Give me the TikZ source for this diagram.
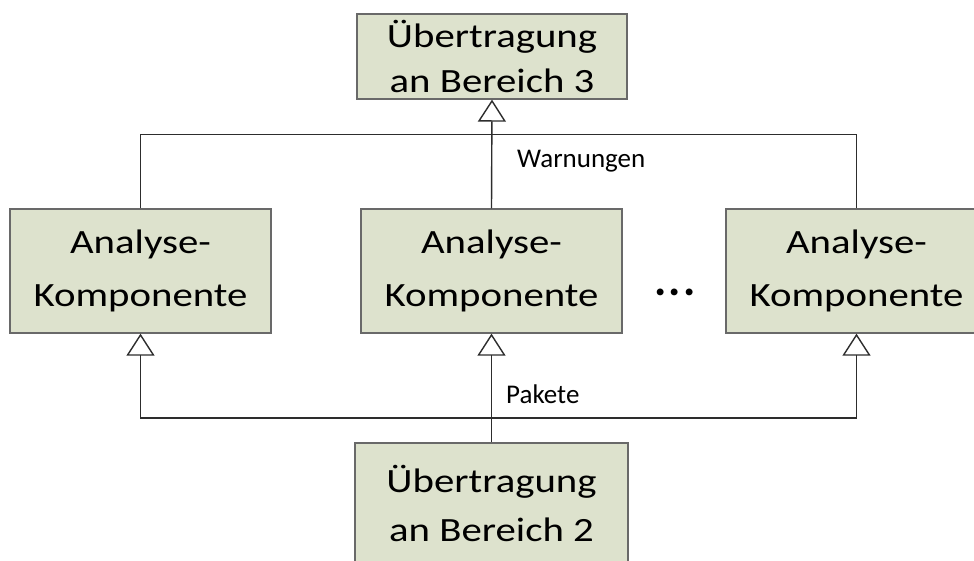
\documentclass[tikz,border=0pt]{standalone}
\usepackage{fontspec}
\setmainfont{Carlito}
\newfontfamily\boxfont[FakeStretch=1.2]{Carlito}
\usetikzlibrary{arrows.meta}
\definecolor{boxgreen}{RGB}{221,226,205}
\definecolor{boxrand}{RGB}{105,105,105}
\definecolor{linecolor}{RGB}{45,45,45}
\tikzset{
  >={Triangle[length=22pt,width=28pt,fill=white]},
  kompbox/.style={draw=boxrand,fill=boxgreen,line width=1.3pt,minimum width=261pt,
    minimum height=124pt,inner sep=0pt,align=center,font=\boxfont\fontsize{34}{53}\selectfont},
  uebbox/.style={kompbox,minimum width=270pt,minimum height=85pt,
    font=\boxfont\fontsize{34}{45}\selectfont},
  wire/.style={draw=linecolor,line width=1.4pt},
  wirep/.style={draw=linecolor,line width=1.4pt,->},
  labeltext/.style={font=\fontsize{27}{30}\selectfont,inner sep=0pt,anchor=base west}
}

\begin{document}
\begin{tikzpicture}[x=1pt,y=-1pt]
  \useasboundingbox (0,0) rectangle (974,560);
  % boxes
  \node[uebbox] (UEB3) at (492,56.5) {Übertragung\\an Bereich 3};
  \node[kompbox] (ANA1) at (140.5,271) {Analyse-\\Komponente};
  \node[kompbox] (ANA2) at (491.5,271) {Analyse-\\Komponente};
  \node[kompbox] (ANA3) at (856.5,271) {Analyse-\\Komponente};
  \node[uebbox,minimum width=273pt,minimum height=120pt,
    font=\boxfont\fontsize{34}{49}\selectfont] (UEB2) at (491.5,503) {Übertragung\\an Bereich 2};
  \node[font=\fontsize{46}{46}\selectfont\bfseries,inner sep=0pt] (DOTS) at (675,292)
    {.\kern2.5pt.\kern2.5pt.};
  % warnings up
  \draw (ANA2.north) -- (UEB3.south) [wirep];
  \draw (ANA1.north) -- ++(0,-74) -| (ANA3.north) [wire];
  \node[labeltext] (WARN) at (517,167) {Warnungen};
  % packets up
  \coordinate (BUS) at (491.5,418);
  \draw (UEB2.north) -- (ANA2.south) [wirep];
  \draw (BUS) -| (ANA1.south) [wirep];
  \draw (BUS) -| (ANA3.south) [wirep];
  \node[labeltext] (PAK) at (506,403) {Pakete};
\end{tikzpicture}
\end{document}
